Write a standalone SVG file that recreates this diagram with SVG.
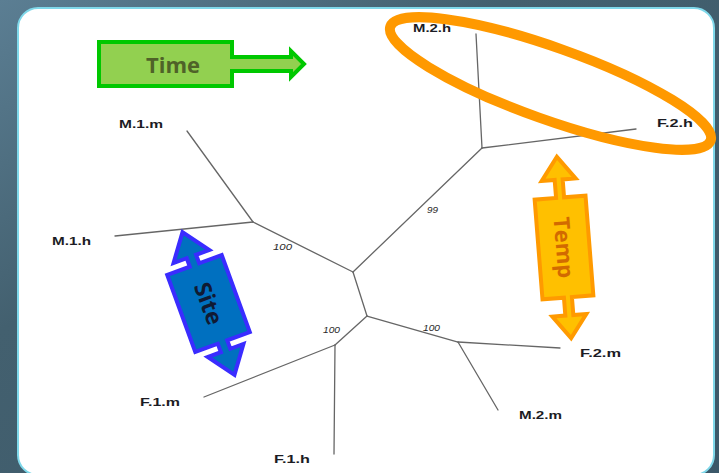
<svg xmlns="http://www.w3.org/2000/svg" width="719" height="473" viewBox="0 0 719 473">
  <defs>
    <linearGradient id="bg" x1="0" y1="0" x2="1" y2="1">
      <stop offset="0" stop-color="#5b7e93"/>
      <stop offset="0.35" stop-color="#43606f"/>
      <stop offset="1" stop-color="#3b5869"/>
    </linearGradient>
    <style>
      .edge { fill: none; stroke: #666666; stroke-width: 1.3; stroke-linecap: round; }
      .leaf { font-family: "Liberation Sans", Arial, sans-serif; font-weight: bold; font-size: 11.5px; fill: #1c1c24; }
      .boot { font-family: "Liberation Sans", Arial, sans-serif; font-style: italic; font-size: 9.5px; fill: #2a2a2a; }
      .tag { font-family: "Open Sans", "Noto Sans", sans-serif; font-weight: bold; }
    </style>
  </defs>

  <!-- backdrop and rounded panel -->
  <rect x="0" y="0" width="719" height="473" fill="url(#bg)"/>
  <rect x="18" y="8" width="696" height="467" rx="20" ry="20" fill="#ffffff" stroke="#7fd8ea" stroke-width="2"/>

  <!-- tree branches -->
  <g id="connectors">
    <line class="edge" x1="187" y1="131" x2="253" y2="222"/>
    <line class="edge" x1="115" y1="236" x2="253" y2="222"/>
    <line class="edge" x1="253" y1="222" x2="353" y2="272"/>
    <line class="edge" x1="353" y1="272" x2="482" y2="148"/>
    <line class="edge" x1="482" y1="148" x2="476" y2="34"/>
    <line class="edge" x1="482" y1="148" x2="636" y2="129"/>
    <line class="edge" x1="353" y1="272" x2="367" y2="316"/>
    <line class="edge" x1="367" y1="316" x2="335" y2="345"/>
    <line class="edge" x1="335" y1="345" x2="204" y2="397"/>
    <line class="edge" x1="335" y1="345" x2="334" y2="454"/>
    <line class="edge" x1="367" y1="316" x2="458" y2="342"/>
    <line class="edge" x1="458" y1="342" x2="560" y2="348"/>
    <line class="edge" x1="458" y1="342" x2="498" y2="410"/>
  </g>

  <!-- bootstrap support values -->
  <g id="support">
    <text class="boot" x="273" y="250" textLength="19" lengthAdjust="spacingAndGlyphs">100</text>
    <text class="boot" x="323" y="333" textLength="17" lengthAdjust="spacingAndGlyphs">100</text>
    <text class="boot" x="423" y="331" textLength="17" lengthAdjust="spacingAndGlyphs">100</text>
    <text class="boot" x="427" y="213" textLength="11" lengthAdjust="spacingAndGlyphs">99</text>
  </g>

  <!-- leaves -->
  <g id="M1m"><text class="leaf" x="119" y="128" textLength="44" lengthAdjust="spacingAndGlyphs">M.1.m</text></g>
  <g id="M1h"><text class="leaf" x="52" y="245" textLength="39" lengthAdjust="spacingAndGlyphs">M.1.h</text></g>
  <g id="M2h"><text class="leaf" x="413" y="32" textLength="38" lengthAdjust="spacingAndGlyphs">M.2.h</text></g>
  <g id="F2h"><text class="leaf" x="657" y="127" textLength="36" lengthAdjust="spacingAndGlyphs">F.2.h</text></g>
  <g id="F2m"><text class="leaf" x="580" y="357" textLength="41" lengthAdjust="spacingAndGlyphs">F.2.m</text></g>
  <g id="M2m"><text class="leaf" x="519" y="419" textLength="43" lengthAdjust="spacingAndGlyphs">M.2.m</text></g>
  <g id="F1m"><text class="leaf" x="140" y="406" textLength="40" lengthAdjust="spacingAndGlyphs">F.1.m</text></g>
  <g id="F1h"><text class="leaf" x="274" y="463" textLength="36" lengthAdjust="spacingAndGlyphs">F.1.h</text></g>

  <!-- Time callout -->
  <g id="time">
    <path d="M99,42 L232,42 L232,57 L291,57 L291,51 L304,64 L291,77 L291,71 L232,71 L232,86 L99,86 Z" fill="#92d050" stroke="#00c800" stroke-width="4" stroke-linejoin="miter"/>
    <text class="tag" x="173" y="73" font-size="22" fill="#4f6228" text-anchor="middle">Time</text>
  </g>

  <!-- Site double arrow -->
  <g id="site" transform="translate(208.5,303.5) rotate(70)">
    <path d="M-76,0 L-50,-19 L-50,-5 L-41,-5 L-41,-29 L41,-29 L41,-5 L50,-5 L50,-19 L76,0 L50,19 L50,5 L41,5 L41,29 L-41,29 L-41,5 L-50,5 L-50,19 Z" fill="#0070c0" stroke="#3a2cff" stroke-width="4"/>
    <text class="tag" x="0" y="8" font-size="23" fill="#101a33" text-anchor="middle">Site</text>
  </g>

  <!-- Temp double arrow -->
  <g id="temp" transform="translate(564,247.5) rotate(85.5)">
    <path d="M-91,0 L-68,-17 L-68,-4 L-50,-4 L-50,-25.5 L50,-25.5 L50,-4 L68,-4 L68,-17 L91,0 L68,17 L68,4 L50,4 L50,25.5 L-50,25.5 L-50,4 L-68,4 L-68,17 Z" fill="#ffc000" stroke="#ff9a00" stroke-width="4"/>
    <text class="tag" x="0" y="8" font-size="22" fill="#d26a00" text-anchor="middle">Temp</text>
  </g>

  <!-- highlight ring -->
  <g id="highlight">
    <ellipse cx="550.5" cy="83.5" rx="170" ry="36" transform="rotate(19.6 550.5 83.5)" fill="none" stroke="#ff9900" stroke-width="10"/>
  </g>
</svg>
